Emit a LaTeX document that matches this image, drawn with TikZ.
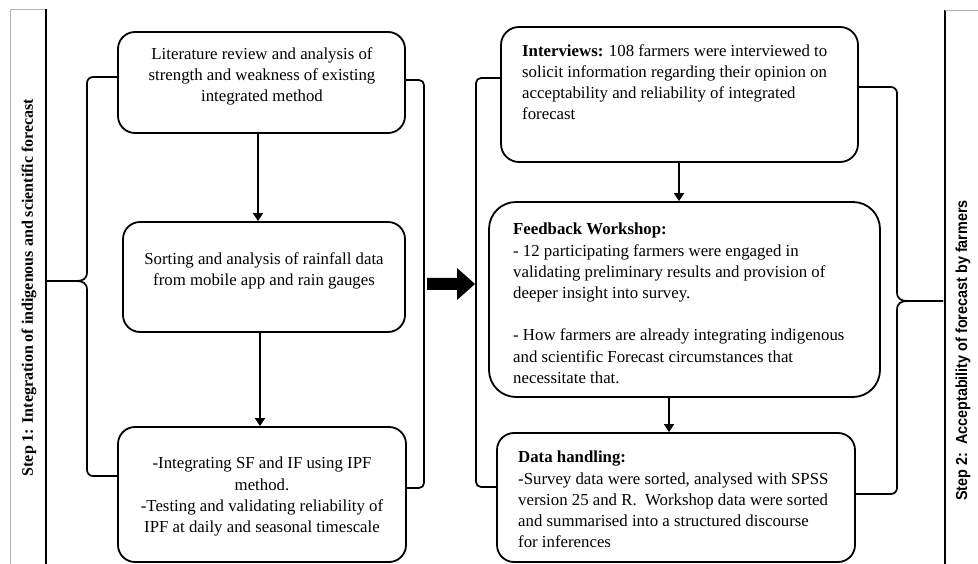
\documentclass[tikz,border=0pt]{standalone}
\usepackage{fontspec}
\setmainfont{Liberation Serif}
\newfontfamily\stepsans{Liberation Sans}
\usetikzlibrary{arrows.meta}
\begin{document}
\begin{tikzpicture}[x=1pt,y=-1pt,
  box/.style={draw, line width=1.8pt, rounded corners=#1, inner sep=0pt},
  box/.default=17pt,
  body/.style={inner sep=0pt, font=\fontsize{16.8}{21.2}\selectfont},
  conn/.style={line width=1.7pt},
  flow/.style={conn, -{Triangle[width=10pt,length=8pt]}},
  steplabel/.style={rotate=90, inner sep=0pt},
  ]
\useasboundingbox (0,0) rectangle (978,564);

% side panels
\draw[gray!60, line width=0.9pt] (10,570) -- (10,9) -- (46,9);
\draw[line width=1.7pt] (46,9) -- (46,570);
\coordinate (p1) at (46,281);
\draw[line width=1.7pt] (945,10) -- (945,570);
\draw[gray!60, line width=0.9pt] (945,10) -- (980,10);
\coordinate (p2) at (943,301);

\node[steplabel, font=\bfseries\fontsize{16}{19}\selectfont] (s1) at (29,287.5)
  {Step 1: Integration of indigenous and scientific forecast};
\node[steplabel, font=\stepsans\bfseries\fontsize{16}{19}\selectfont] (s2) at (963,350.5)
  {\scalebox{0.9}[1]{Step 2:\ \ Acceptability of forecast by farmers}};

% step 1 boxes
\node[box, minimum width=287pt, minimum height=101pt] (b1) at (261.5,82.5) {};
\node[box, minimum width=282pt, minimum height=110pt] (b2) at (264,277) {};
\node[box, minimum width=288pt, minimum height=135pt] (b3) at (262,494.5) {};

\node[body, align=center, anchor=north] (t1) at (262,47)
  {Literature review and analysis of\\strength and weakness of existing\\integrated method};
\node[body, align=center, anchor=north] (t2) at (264,252)
  {Sorting and analysis of rainfall data\\from mobile app and rain gauges};
\node[body, align=center, anchor=north] (t3) at (262,457)
  {-Integrating SF and IF using IPF\\method.\\-Testing and validating reliability of\\IPF at daily and seasonal timescale};

% step 2 boxes
\node[box=18pt, minimum width=357pt, minimum height=135pt] (r1) at (679.5,94.5) {};
\node[box=27pt, minimum width=391pt, minimum height=195pt] (r2) at (684.5,299.5) {};
\node[box=17pt, minimum width=358pt, minimum height=129pt] (r3) at (676,497.5) {};

\node[body, align=left, anchor=north west] (u1) at (522,44)
  {\textbf{Interviews:} 108 farmers were interviewed to\\solicit information regarding their opinion on\\acceptability and reliability of integrated\\forecast};
\node[body, align=left, anchor=north west] (u2) at (513,223)
  {\textbf{Feedback Workshop:}\\- 12 participating farmers were engaged in\\validating preliminary results and provision of\\deeper insight into survey.\\[21.2pt]- How farmers are already integrating indigenous\\and scientific Forecast circumstances that\\necessitate that.};
\node[body, align=left, anchor=north west] (u3) at (518,451)
  {\textbf{Data handling:}\\-Survey data were sorted, analysed with SPSS\\version 25 and R.\ \ Workshop data were sorted\\and summarised into a structured discourse\\for inferences};

% flow arrows
\draw[flow] ([xshift=-3.5pt]b1.south) -- ([xshift=-3.5pt]b1.south |- b2.north);
\draw[flow] ([xshift=-4pt]b2.south) -- ([xshift=-4pt]b2.south |- b3.north);
\draw[flow] ([xshift=-0.5pt]r1.south) -- ([xshift=-0.5pt]r1.south |- r2.north);
\draw[flow] ([xshift=-15.5pt]r2.south) -- ([xshift=-15.5pt]r2.south |- r3.north);

% brackets around each block
\draw[conn, rounded corners=5pt] (b1.east |- 0,80) -- (424,80) -- (424,488) -- (b3.east |- 0,488);
\draw[conn, rounded corners=5pt] (r1.west |- 0,78) -- (476,78) -- (476,487) -- (r3.west |- 0,487);

% brace joining step 1 boxes to its panel
\draw[conn] (b1.west |- 0,77) -- (93,77) to[out=180,in=90] (87,83) -- (87,272)
  .. controls (87,279) and (83,281) .. (76,281) -- (p1);
\draw[conn] (p1) -- (76,281) .. controls (83,281) and (87,283) .. (87,290)
  -- (87,470) to[out=-90,in=180] (93,476) -- (b3.west |- 0,476);

% brace joining step 2 boxes to its panel
\draw[conn] (r1.east |- 0,87) -- (891,87) to[out=0,in=90] (897,93) -- (897,292)
  .. controls (897,299) and (901,301) .. (908,301) -- (p2);
\draw[conn] (p2) -- (908,301) .. controls (901,301) and (897,303) .. (897,310)
  -- (897,488) to[out=-90,in=0] (891,494) -- (r3.east |- 0,494);

% block arrow from step 1 to step 2
\fill (427,278) -- (457,278) -- (457,268) -- (475,284) -- (457,300) -- (457,290) -- (427,290) -- cycle;
\end{tikzpicture}
\end{document}
